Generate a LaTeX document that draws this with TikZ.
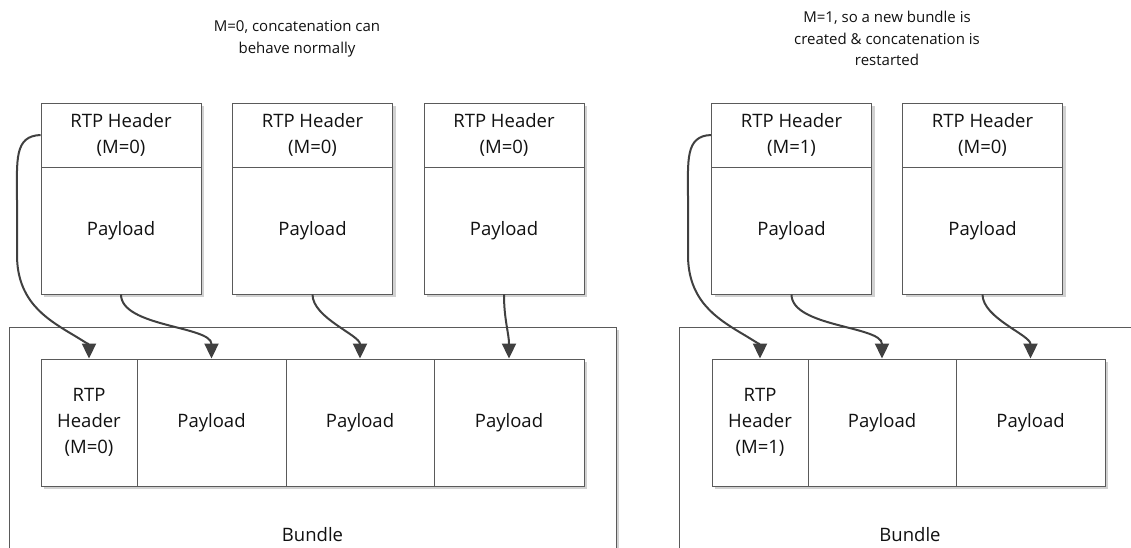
\documentclass[tikz,border=0pt]{standalone}
\usepackage{fontspec}
\setmainfont{Open Sans}
\usetikzlibrary{arrows.meta,shadows}
\definecolor{boxgray}{HTML}{5A5A5A}
\definecolor{arrowgray}{HTML}{404040}
\definecolor{txt}{HTML}{111111}
\begin{document}
\begin{tikzpicture}[x=1pt,y=-1pt,
  box/.style={draw=boxgray, line width=0.9pt, fill=white, inner sep=0pt, align=center,
    text=txt, font=\fontsize{18.5}{26}\selectfont,
    drop shadow={shadow xshift=3pt, shadow yshift=-3pt, fill=black!18, opacity=1}},
  hdr/.style={box, minimum width=160pt, minimum height=64pt},
  pay/.style={box, minimum width=160pt, minimum height=127pt},
  inner/.style={box, minimum height=127pt},
  frame/.style={box, minimum height=243pt},
  conn/.style={draw=arrowgray, line width=2pt, -{Triangle[length=15pt,width=14pt]}},
  title/.style={align=center, text=txt, font=\fontsize{15}{21.5}\selectfont},
  lbl/.style={text=txt, font=\fontsize{18.5}{26}\selectfont}
]
\useasboundingbox (0,0) rectangle (1131,548);
\clip (0,0) rectangle (1131,548);

% titles
\node[title] (t1) at (297,39) {M=0, concatenation can\\behave normally};
\node[title] (t2) at (887,38.5) {M=1, so a new bundle is\\created \& concatenation is\\restarted};

% bundle frames
\node[frame, minimum width=607pt] (bl) at (312.5,448.5) {};
\node[frame, minimum width=462pt] (br) at (910,448.5) {};
\node[lbl] (bll) at (312.5,535) {Bundle};
\node[lbl] (brl) at (910,535) {Bundle};

% bundle contents (left)
\node[inner, minimum width=96pt] (bh) at (89,422.5) {RTP\\Header\\(M=0)};
\node[inner, minimum width=149pt] (bp1) at (211.5,422.5) {Payload};
\node[inner, minimum width=148pt] (bp2) at (360,422.5) {Payload};
\node[inner, minimum width=150pt] (bp3) at (509,422.5) {Payload};

% bundle contents (right)
\node[inner, minimum width=96pt] (rbh) at (760,422.5) {RTP\\Header\\(M=1)};
\node[inner, minimum width=148pt] (rbp1) at (882,422.5) {Payload};
\node[inner, minimum width=149pt] (rbp2) at (1030.5,422.5) {Payload};

% packets (left)
\node[hdr] (h1) at (121,135) {RTP Header\\(M=0)};
\node[pay] (p1) at (121,230.5) {Payload};
\node[hdr] (h2) at (312.5,135) {RTP Header\\(M=0)};
\node[pay] (p2) at (312.5,230.5) {Payload};
\node[hdr] (h3) at (504,135) {RTP Header\\(M=0)};
\node[pay] (p3) at (504,230.5) {Payload};

% packets (right)
\node[hdr] (rh1) at (791.5,135) {RTP Header\\(M=1)};
\node[pay] (rp1) at (791.5,230.5) {Payload};
\node[hdr] (rh2) at (982.5,135) {RTP Header\\(M=0)};
\node[pay] (rp2) at (982.5,230.5) {Payload};

% connectors (left)
\draw[conn] (h1.west) .. controls (14,136) and (17,160) .. (17,200) -- (17,255)
  .. controls (17,300) and (45,318) .. (70,333) .. controls (82,340) and (89,345) .. (bh.north);
\draw[conn] (p1.south) to[out=-90,in=90,looseness=0.75] (bp1.north);
\draw[conn] (p2.south) to[out=-90,in=90,looseness=0.75] (bp2.north);
\draw[conn] (p3.south) to[out=-90,in=90] (bp3.north);

% connectors (right)
\draw[conn] (rh1.west) .. controls (685,136) and (688,160) .. (688,200) -- (688,255)
  .. controls (688,300) and (716,318) .. (741,333) .. controls (753,340) and (760,345) .. (rbh.north);
\draw[conn] (rp1.south) to[out=-90,in=90,looseness=0.75] (rbp1.north);
\draw[conn] (rp2.south) to[out=-90,in=90,looseness=0.75] (rbp2.north);
\end{tikzpicture}
\end{document}
